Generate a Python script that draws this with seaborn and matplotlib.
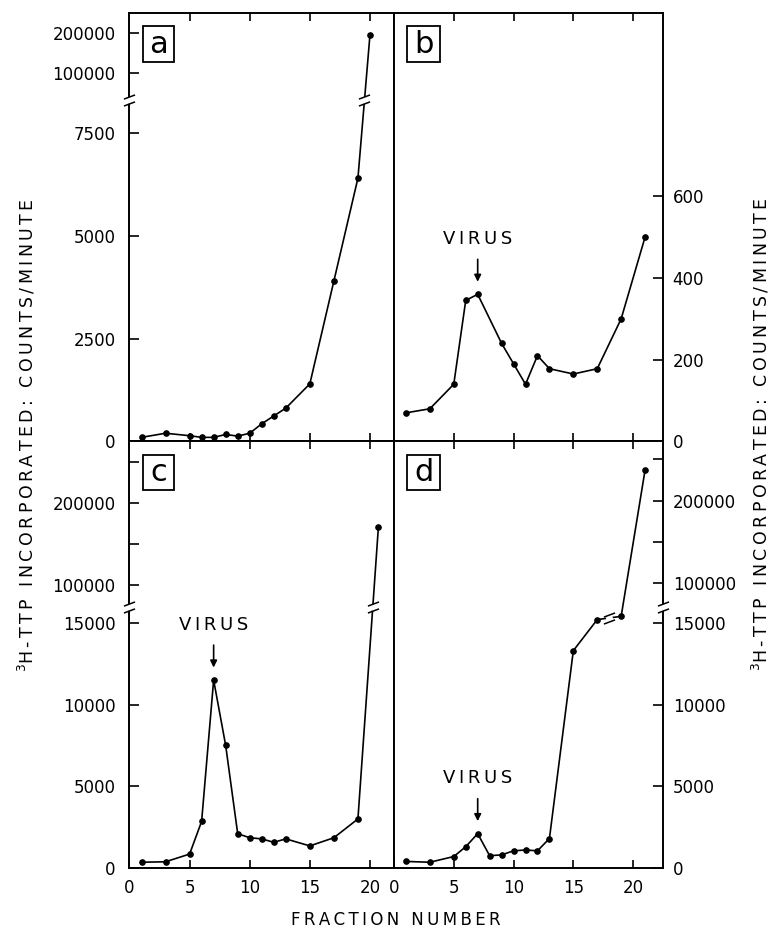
import matplotlib
matplotlib.use("Agg")
import matplotlib.pyplot as plt
import numpy as np
import pandas as pd
import seaborn as sns
from matplotlib.patches import Rectangle
from matplotlib.path import Path

# values (fraction number vs counts/minute)
frac_a = [1, 3, 5, 6, 7, 8, 9, 10, 11, 12, 13, 15, 17, 19, 20]
cpm_a = [100, 200, 140, 100, 100, 170, 130, 200, 430, 620, 810, 1400, 3900, 6400, 195000]

frac_b = [1, 3, 5, 6, 7, 9, 10, 11, 12, 13, 15, 17, 19, 21]
cpm_b = [70, 80, 140, 345, 360, 240, 190, 140, 210, 178, 165, 178, 300, 500]

frac_c = [1, 3, 5, 6, 7, 8, 9, 10, 11, 12, 13, 15, 17, 19, 20.7]
cpm_c = [350, 380, 850, 2850, 11500, 7500, 2100, 1850, 1780, 1570, 1780, 1350, 1850, 3000, 170000]

frac_d = [1, 3, 5, 6, 7, 8, 9, 10, 11, 12, 13, 15, 17, 19, 21]
cpm_d = [400, 350, 700, 1300, 2100, 750, 800, 1050, 1100, 1050, 1800, 13300, 15200, 15400, 237000]

yticks_a = [0, 2500, 5000, 7500, 100000, 200000]
yticks_b = [0, 200, 400, 600]
yticks_cd = [0, 5000, 10000, 15000, 100000, 200000]
yminor_cd = [150000, 250000]
xticks_top = [5, 10, 15, 20]
xticks_bottom = [0, 5, 10, 15, 20]

sns.set_theme(
    style="ticks",
    rc={
        "axes.edgecolor": "black",
        "axes.linewidth": 1.4,
        "xtick.color": "black",
        "ytick.color": "black",
        "text.color": "black",
        "axes.labelcolor": "black",
    },
)
plt.rcParams["font.family"] = ["DejaVu Sans"]
plt.rcParams["mathtext.fontset"] = "dejavusans"

TS = "\u2009"


def spaced(s):
    return TS.join(s)


BREAK_PATH = Path(
    [(-1, -1.0), (1, -0.25), (-1, 0.25), (1, 1.0)],
    [Path.MOVETO, Path.LINETO, Path.MOVETO, Path.LINETO],
)


def make_break(lo_top, hi_bot, hi_top, frac):
    # piecewise linear scale: [0, lo_top] -> [0, frac], [hi_bot, hi_top] -> [frac, 1]
    s1 = frac / lo_top
    s2 = (1 - frac) / (hi_top - hi_bot)

    def fwd(y):
        y = np.asarray(y, dtype=float)
        return np.where(y <= lo_top, y * s1,
                        np.where(y >= hi_bot, frac + (y - hi_bot) * s2, frac))

    def inv(v):
        v = np.asarray(v, dtype=float)
        return np.where(v <= frac, v / s1, hi_bot + (v - frac) / s2)

    return fwd, inv


def draw_break(ax, x, y):
    ax.plot([x], [y], ls="none", marker="o", ms=5, mfc="white", mec="none",
            clip_on=False, zorder=5)
    ax.plot([x], [y], ls="none", marker=BREAK_PATH, ms=8, mfc="none", mec="black",
            mew=1.1, clip_on=False, zorder=6)


def crossing(x1, y1, x2, y2, fwd, frac):
    v1, v2 = float(fwd(y1)), float(fwd(y2))
    return x1 + (frac - v1) / (v2 - v1) * (x2 - x1)


def draw_curve(ax, frac, cpm):
    df = pd.DataFrame({"fraction": frac, "cpm": cpm})
    sns.lineplot(data=df, x="fraction", y="cpm", ax=ax, color="black", lw=1.2,
                 marker="o", markersize=4, markeredgecolor="black")
    ax.set(xlabel="", ylabel="")


def panel_letter(ax, letter):
    ax.add_patch(Rectangle((0.05, 0.886), 0.12, 0.083, transform=ax.transAxes,
                           fill=False, ec="black", lw=1.3, zorder=4))
    ax.text(0.11, 0.927, letter, transform=ax.transAxes, ha="center", va="center",
            fontsize=22, zorder=5)


def virus(ax, frac, cpm):
    peak = cpm[frac.index(7)]
    ax.annotate(spaced("VIRUS"), xy=(7, peak), xytext=(0, 40),
                textcoords="offset points", ha="center", va="center", fontsize=13,
                arrowprops=dict(arrowstyle="-|>", color="black", lw=1.2,
                                shrinkA=6, shrinkB=9, mutation_scale=10))


fig = plt.figure(figsize=(7.73, 9.30), dpi=100)
L, M, R = 0.1675, 0.5097, 0.8577
T, MID, B = 0.986, 0.5253, 0.0667
ax_a = fig.add_axes([L, MID, M - L, T - MID])
ax_b = fig.add_axes([M, MID, R - M, T - MID])
ax_c = fig.add_axes([L, B, M - L, MID - B])
ax_d = fig.add_axes([M, B, R - M, MID - B])

# panel a
brk_a = (8300, 32500, 250000, 0.797)
fwd_a, inv_a = make_break(*brk_a)
draw_curve(ax_a, frac_a, cpm_a)
ax_a.set_yscale("function", functions=(fwd_a, inv_a))
draw_break(ax_a, 0, brk_a[0])
draw_break(ax_a, crossing(frac_a[-2], cpm_a[-2], frac_a[-1], cpm_a[-1], fwd_a, brk_a[3]),
           brk_a[0])
ax_a.set_xlim(0, 22)
ax_a.set_ylim(0, brk_a[2])
ax_a.set_yticks(yticks_a, [str(t) for t in yticks_a])

# panel b
draw_curve(ax_b, frac_b, cpm_b)
virus(ax_b, frac_b, cpm_b)
ax_b.set_xlim(0, 22.5)
ax_b.set_ylim(0, 1048)
ax_b.set_yticks(yticks_b, [str(t) for t in yticks_b])

# panel c
brk_c = (16000, 73400, 275000, 0.613)
fwd_c, inv_c = make_break(*brk_c)
draw_curve(ax_c, frac_c, cpm_c)
virus(ax_c, frac_c, cpm_c)
ax_c.set_yscale("function", functions=(fwd_c, inv_c))
draw_break(ax_c, 0, brk_c[0])
draw_break(ax_c, crossing(frac_c[-2], cpm_c[-2], frac_c[-1], cpm_c[-1], fwd_c, brk_c[3]),
           brk_c[0])
ax_c.set_xlim(0, 22)
ax_c.set_ylim(0, brk_c[2])

# panel d
brk_d = (16000, 71600, 271700, 0.613)
fwd_d, inv_d = make_break(*brk_d)
draw_curve(ax_d, frac_d, cpm_d)
virus(ax_d, frac_d, cpm_d)
ax_d.set_yscale("function", functions=(fwd_d, inv_d))
draw_break(ax_d, 22.5, brk_d[0])
i17 = frac_d.index(17)
mid_v = (float(fwd_d(cpm_d[i17])) + float(fwd_d(cpm_d[i17 + 1]))) / 2
draw_break(ax_d, (frac_d[i17] + frac_d[i17 + 1]) / 2, float(inv_d(mid_v)))
ax_d.set_xlim(0, 22.5)
ax_d.set_ylim(0, brk_d[2])

for ax in (ax_c, ax_d):
    ax.set_yticks(yticks_cd, [str(t) for t in yticks_cd])
    ax.set_yticks(yminor_cd, minor=True)

for ax, letter in zip((ax_a, ax_b, ax_c, ax_d), "abcd"):
    for s in ax.spines.values():
        s.set_visible(True)
        s.set_linewidth(1.4)
    ax.tick_params(axis="x", which="both", direction="in", top=True, bottom=True,
                   length=6, width=1.2, labelsize=12, pad=8)
    ax.tick_params(axis="y", which="both", direction="in", length=7, width=1.2,
                   labelsize=12)
    panel_letter(ax, letter)

for ax in (ax_a, ax_b):
    ax.set_xticks(xticks_top)
    ax.tick_params(axis="x", labelbottom=False)
for ax in (ax_c, ax_d):
    ax.set_xticks(xticks_bottom, [str(t) for t in xticks_bottom])

for ax in (ax_a, ax_c):
    ax.tick_params(axis="y", which="both", left=True, right=False, labelleft=True,
                   labelright=False, pad=10)
for ax in (ax_b, ax_d):
    ax.tick_params(axis="y", which="both", left=False, right=True, labelleft=False,
                   labelright=True, pad=7)

ylab = r"$^{3}$" + spaced("H-TTP INCORPORATED: COUNTS/MINUTE")
fig.text(27 / 773, 0.532, ylab, rotation=90, ha="center", va="center", fontsize=12.5)
fig.text(761 / 773, 0.533, ylab, rotation=90, ha="center", va="center", fontsize=12.5)
fig.text(0.512, 0.0105, spaced("FRACTION NUMBER"), ha="center", va="center", fontsize=12)

fig.savefig("out.png", dpi=100)
